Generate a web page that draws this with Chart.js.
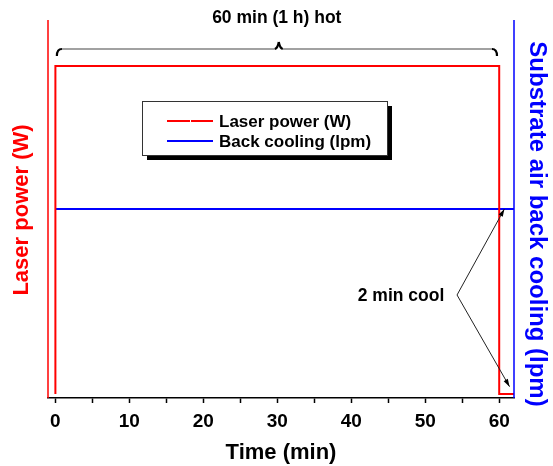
<!DOCTYPE html>
<html>
<head>
<meta charset="utf-8">
<script src="https://cdn.jsdelivr.net/npm/chart.js@4.4.1/dist/chart.umd.min.js"></script>
<style>
  html, body { margin: 0; padding: 0; background: #fff; }
  #wrap { width: 553px; height: 466px; position: relative; }
</style>
</head>
<body>
<div id="wrap"><canvas id="c" width="553" height="466"></canvas></div>
<script>
// ---- data ----
const laserTime = [0, 0, 60, 60, 62];
const laserPower = [0, 1, 1, 0, 0];          // normalized (on/off)
const coolingTime = [0, 62];
const coolingFlow = [1, 1];                   // normalized (on)
const xTickValues = [0, 5, 10, 15, 20, 25, 30, 35, 40, 45, 50, 55, 60];
const xLabelValues = [0, 10, 20, 30, 40, 50, 60];
const seriesLabels = ['Laser power (W)', 'Back cooling (lpm)'];
const axisTitles = { x: 'Time (min)', left: 'Laser power (W)', right: 'Substrate air back cooling (lpm)' };
const notes = { hot: '60 min (1 h) hot', cool: '2 min cool' };

const RED = '#ff0000', BLUE = '#0000ff';
const FONT = '"Liberation Sans", Arial, sans-serif';

const annotPlugin = {
  id: 'annot',
  afterDatasetsDraw(chart) {
    const { ctx, chartArea: a, scales } = chart;
    const x = scales.x, y2 = scales.y2;
    ctx.save();
    // left / right axis lines
    ctx.lineWidth = 1.5;
    ctx.strokeStyle = RED;
    ctx.beginPath(); ctx.moveTo(a.left, a.top); ctx.lineTo(a.left, a.bottom); ctx.stroke();
    ctx.strokeStyle = BLUE;
    ctx.beginPath(); ctx.moveTo(a.right, a.top); ctx.lineTo(a.right, a.bottom); ctx.stroke();

    // axis titles
    ctx.font = 'bold 22px ' + FONT;
    ctx.fillStyle = RED;
    ctx.textAlign = 'center'; ctx.textBaseline = 'middle';
    ctx.save(); ctx.translate(22, 210); ctx.rotate(-Math.PI / 2);
    ctx.fillText(axisTitles.left, 0, 0); ctx.restore();
    ctx.font = 'bold 24px ' + FONT;
    ctx.fillStyle = BLUE;
    ctx.save(); ctx.translate(537, 224); ctx.rotate(Math.PI / 2);
    ctx.fillText(axisTitles.right, 0, 0); ctx.restore();

    // brace at top
    const bl = x.getPixelForValue(0.2), br = x.getPixelForValue(59.7), bm = x.getPixelForValue(30.2);
    const by = 49;
    ctx.strokeStyle = '#444'; ctx.lineWidth = 1.2;
    ctx.beginPath();
    ctx.moveTo(bl + 4, by); ctx.lineTo(bm - 4, by);
    ctx.moveTo(bm + 4, by); ctx.lineTo(br - 4, by);
    ctx.stroke();
    ctx.strokeStyle = '#000'; ctx.lineWidth = 2.2;
    ctx.beginPath();
    ctx.moveTo(bl, by + 7); ctx.quadraticCurveTo(bl, by, bl + 5, by);
    ctx.moveTo(br - 5, by); ctx.quadraticCurveTo(br, by, br, by + 7);
    ctx.moveTo(bm - 4, by); ctx.quadraticCurveTo(bm - 1, by - 1, bm, by - 7);
    ctx.moveTo(bm + 4, by); ctx.quadraticCurveTo(bm + 1, by - 1, bm, by - 7);
    ctx.stroke();

    ctx.fillStyle = '#000';
    ctx.font = 'bold 17.5px ' + FONT;
    ctx.textAlign = 'center'; ctx.textBaseline = 'middle';
    ctx.fillText(notes.hot, bm - 2, 18);

    // cool note + arrows
    ctx.fillText(notes.cool, 401, 296);
    const ox = x.getPixelForValue(54.3), oy = y2.getPixelForValue(0.545);
    const targets = [[x.getPixelForValue(60.7), y2.getPixelForValue(1.0)],
                     [x.getPixelForValue(61.4), y2.getPixelForValue(0.06)]];
    ctx.strokeStyle = '#222'; ctx.lineWidth = 1;
    targets.forEach(([tx, ty]) => {
      ctx.beginPath(); ctx.moveTo(ox, oy); ctx.lineTo(tx, ty); ctx.stroke();
      const ang = Math.atan2(ty - oy, tx - ox), L = 8, W = 0.3;
      ctx.beginPath();
      ctx.moveTo(tx, ty);
      ctx.lineTo(tx - L * Math.cos(ang - W), ty - L * Math.sin(ang - W));
      ctx.lineTo(tx - L * Math.cos(ang + W), ty - L * Math.sin(ang + W));
      ctx.closePath(); ctx.fillStyle = '#000'; ctx.fill();
    });

    // legend box
    const lx = 142, ly = 101, lw = 245, lh = 54;
    ctx.fillStyle = '#000';
    ctx.fillRect(lx + 5, ly + lh, lw, 5);
    ctx.fillRect(lx + lw, ly + 5, 5, lh);
    ctx.fillStyle = '#fff';
    ctx.fillRect(lx, ly, lw, lh);
    ctx.strokeStyle = '#333'; ctx.lineWidth = 1;
    ctx.strokeRect(lx + 0.5, ly + 0.5, lw, lh);
    const ds = chart.data.datasets;
    const rows = [121, 141];
    ds.forEach((d, i) => {
      ctx.strokeStyle = d.borderColor; ctx.lineWidth = 2;
      ctx.beginPath();
      if (i === 0) {
        ctx.moveTo(167, rows[i]); ctx.lineTo(190, rows[i]);
        ctx.moveTo(191, rows[i]); ctx.lineTo(213, rows[i]);
      } else {
        ctx.moveTo(167, rows[i]); ctx.lineTo(213, rows[i]);
      }
      ctx.stroke();
      ctx.fillStyle = '#000';
      ctx.font = 'bold 17px ' + FONT;
      ctx.textAlign = 'left'; ctx.textBaseline = 'middle';
      ctx.fillText(d.label, 219, rows[i] + 1);
    });
    ctx.restore();
  }
};

new Chart(document.getElementById('c'), {
  type: 'line',
  data: {
    datasets: [
      {
        label: seriesLabels[0],
        data: laserTime.map((t, i) => ({ x: t, y: laserPower[i] })),
        borderColor: RED, backgroundColor: RED, borderWidth: 2,
        pointRadius: 0, tension: 0, yAxisID: 'y'
      },
      {
        label: seriesLabels[1],
        data: coolingTime.map((t, i) => ({ x: t, y: coolingFlow[i] })),
        borderColor: BLUE, backgroundColor: BLUE, borderWidth: 2,
        pointRadius: 0, tension: 0, yAxisID: 'y2'
      }
    ]
  },
  options: {
    responsive: false,
    animation: false,
    events: [],
    layout: { padding: { left: 48, right: 39, top: 20, bottom: 0 } },
    plugins: { legend: { display: false }, tooltip: { enabled: false } },
    scales: {
      x: {
        type: 'linear', min: -1, max: 62,
        afterBuildTicks(s) { s.ticks = xTickValues.map(v => ({ value: v })); },
        afterFit(s) { s.height = 68; },
        border: { display: true, color: '#000', width: 1.5 },
        grid: { drawOnChartArea: false, drawTicks: true, tickLength: 5, tickColor: '#000', tickWidth: 1.5 },
        ticks: {
          autoSkip: false, maxRotation: 0, padding: 7, color: '#000',
          font: { family: FONT, size: 19, weight: 'bold' },
          callback: v => (xLabelValues.includes(v) ? String(v) : '')
        },
        title: {
          display: true, text: axisTitles.x, color: '#000',
          font: { family: FONT, size: 22, weight: 'bold' },
          padding: { top: 0, bottom: 0 }
        }
      },
      y: { type: 'linear', display: false, min: -0.012, max: 1.14 },
      y2: { type: 'linear', display: false, position: 'right', min: 0, max: 2 }
    }
  },
  plugins: [annotPlugin]
});
</script>
</body>
</html>
